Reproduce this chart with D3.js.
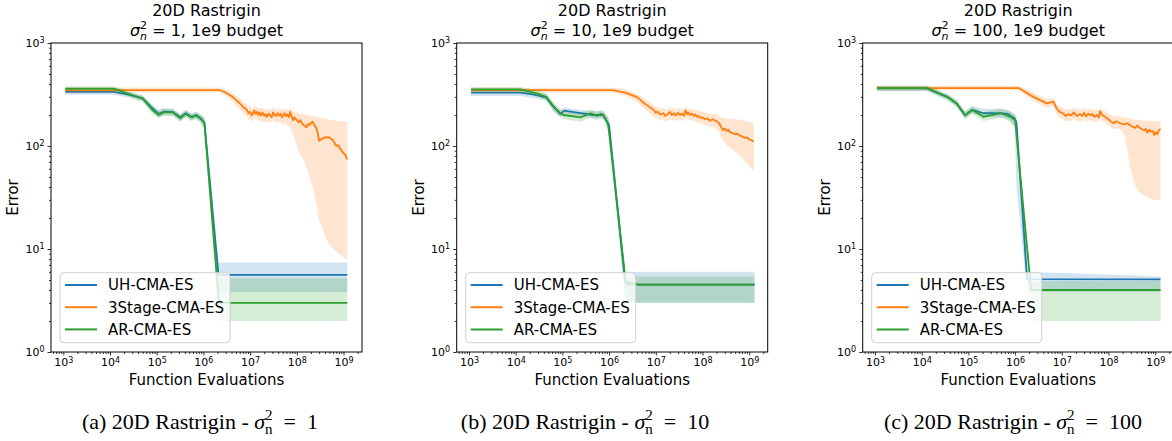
<!DOCTYPE html>
<html>
<head>
<meta charset="utf-8">
<script src="https://cdn.jsdelivr.net/npm/d3@7"></script>
<style>
  body { margin: 0; background: #fff; }
  svg { display: block; }
  text { font-family: "DejaVu Sans", sans-serif; fill: #000; }
</style>
</head>
<body>
<svg id="chart" width="1172" height="441"></svg>
<script>
// each row: [function evaluations, mean error, band low, band high]
var uhA = [
  [1.1e3, 335, 315, 355], [1.2e4, 335, 315, 360], [2.5e4, 315, 295, 335], [5e4, 290, 270, 310],
  [8e4, 235, 215, 255], [1.1e5, 205, 190, 225], [1.4e5, 215, 200, 232], [2.2e5, 214, 198, 230],
  [3.2e5, 190, 175, 205], [4.2e5, 208, 192, 225], [5.5e5, 192, 178, 208], [7e5, 200, 185, 215],
  [8.5e5, 188, 172, 205], [1.05e6, 170, 150, 190], [2.1e6, 5.6, 3.8, 7.4], [1.2e9, 5.6, 3.8, 7.4]
];
var stA = [
  [1.1e3, 348, 330, 370], [2.3e6, 348, 330, 370], [3.2e6, 325, 300, 350], [4.4e6, 295, 268, 322],
  [6e6, 260, 228, 290], [7.2e6, 238, 205, 268], [8.5e6, 225, 195, 255], [9.2e6, 208, 180, 240],
  [1.0e7, 215, 185, 245], [1.07e7, 198, 172, 236], [1.15e7, 205, 178, 232], [1.22e7, 222, 190, 246],
  [1.3e7, 206, 180, 238], [1.4e7, 214, 184, 240], [1.5e7, 200, 172, 228], [1.6e7, 212, 182, 236],
  [1.7e7, 198, 170, 230], [1.85e7, 210, 178, 236], [2.0e7, 196, 168, 225], [2.15e7, 204, 175, 230],
  [2.3e7, 192, 166, 224], [2.5e7, 206, 176, 232], [2.7e7, 198, 170, 226], [2.9e7, 190, 164, 222],
  [3.1e7, 212, 182, 238], [3.35e7, 200, 172, 230], [3.6e7, 195, 166, 224], [3.9e7, 208, 176, 232],
  [4.2e7, 198, 170, 228], [4.5e7, 206, 172, 230], [4.8e7, 190, 160, 222], [5.2e7, 200, 166, 228],
  [5.5e7, 208, 170, 232], [5.9e7, 195, 162, 226], [6.3e7, 203, 160, 228], [6.8e7, 190, 155, 222],
  [7.2e7, 214, 150, 232], [7.7e7, 196, 140, 226], [8.3e7, 178, 130, 215], [8.9e7, 190, 120, 214],
  [9.5e7, 182, 110, 212], [1.03e8, 175, 98, 210], [1.1e8, 170, 88, 208], [1.2e8, 178, 82, 206],
  [1.3e8, 165, 78, 205], [1.45e8, 158, 70, 202], [1.6e8, 152, 62, 200], [1.75e8, 164, 55, 199],
  [1.9e8, 160, 48, 198], [2.05e8, 170, 44, 196], [2.2e8, 172, 40, 195], [2.4e8, 158, 33, 193],
  [2.6e8, 150, 28, 192], [2.8e8, 135, 23, 190], [3.0e8, 112, 19, 188], [3.5e8, 118, 16, 186],
  [4.2e8, 122, 13, 184], [5e8, 121, 11, 180], [6e8, 113, 10, 178], [7e8, 100, 9.5, 176],
  [7.7e8, 102, 9.1, 176], [8.5e8, 94, 8.8, 175], [1.0e9, 85, 8.3, 174], [1.1e9, 82, 8.0, 173],
  [1.2e9, 74, 7.8, 172]
];
var arA = [
  [1.1e3, 360, 340, 380], [1.2e4, 360, 340, 380], [2.5e4, 320, 300, 340], [5e4, 290, 270, 310],
  [8e4, 225, 205, 245], [1.1e5, 200, 185, 220], [1.4e5, 212, 196, 230], [2.2e5, 212, 196, 230],
  [3.2e5, 186, 172, 202], [4.2e5, 205, 190, 222], [5.5e5, 190, 175, 206], [7e5, 197, 182, 213],
  [8.5e5, 185, 170, 202], [1.05e6, 168, 145, 190], [2.15e6, 3.0, 2.0, 5.2], [1.2e9, 3.0, 2.0, 5.2]
];

var uhB = [
  [1.1e3, 330, 305, 355], [1.25e4, 330, 305, 355], [2.5e4, 315, 290, 340], [4.5e4, 295, 275, 320],
  [6.5e4, 240, 220, 260], [9e4, 205, 190, 222], [1.1e5, 220, 205, 238], [1.9e5, 212, 198, 228],
  [4.5e5, 200, 185, 218], [7.4e5, 200, 185, 218], [1.0e6, 160, 140, 185], [2.2e6, 4.8, 3.0, 6.0],
  [4.3e6, 4.5, 3.0, 6.0], [1.3e9, 4.5, 3.0, 6.0]
];
var stB = [
  [1.1e3, 348, 330, 368], [1.2e6, 348, 330, 368], [2.2e6, 330, 305, 355], [3.9e6, 300, 270, 322],
  [6e6, 255, 225, 285], [9e6, 224, 195, 250], [1.0e7, 210, 184, 238], [1.1e7, 216, 188, 240],
  [1.25e7, 202, 178, 230], [1.45e7, 208, 182, 234], [1.6e7, 196, 172, 226], [1.8e7, 204, 176, 228],
  [2.0e7, 214, 186, 238], [2.2e7, 200, 176, 230], [2.45e7, 208, 182, 234], [2.7e7, 198, 174, 226],
  [3.0e7, 210, 182, 234], [3.3e7, 200, 176, 228], [3.6e7, 206, 180, 232], [4e7, 196, 172, 224],
  [4.3e7, 222, 190, 242], [4.7e7, 204, 180, 232], [5.0e7, 212, 186, 236], [5.4e7, 200, 176, 228],
  [6.0e7, 206, 180, 232], [6.5e7, 196, 172, 224], [7.0e7, 202, 176, 228], [7.6e7, 192, 168, 220],
  [8.2e7, 196, 170, 222], [8.9e7, 188, 164, 216], [1.0e8, 190, 164, 216], [1.1e8, 182, 158, 212],
  [1.25e8, 186, 160, 210], [1.45e8, 176, 152, 204], [1.65e8, 182, 154, 206], [1.9e8, 176, 150, 204],
  [2.1e8, 172, 142, 200], [2.3e8, 166, 135, 195], [2.5e8, 152, 120, 190], [2.8e8, 142, 112, 188],
  [3.0e8, 148, 108, 187], [3.3e8, 140, 102, 186], [3.6e8, 144, 99, 185], [3.9e8, 136, 96, 184],
  [4.4e8, 134, 92, 183], [5e8, 130, 88, 182], [5.6e8, 132, 84, 181], [6.3e8, 126, 80, 180],
  [7.1e8, 124, 76, 178], [8e8, 120, 72, 176], [9e8, 121, 68, 173], [1.0e9, 116, 64, 170],
  [1.12e9, 114, 60, 168], [1.25e9, 110, 56, 165]
];
var arB = [
  [1.1e3, 355, 335, 375], [1.25e4, 355, 335, 375], [3e4, 320, 300, 345], [4.5e4, 300, 280, 325],
  [6.5e4, 240, 215, 262], [9e4, 208, 190, 230], [1.05e5, 200, 182, 222], [2.5e5, 190, 172, 208],
  [4e5, 208, 190, 228], [5.6e5, 196, 178, 215], [6.5e5, 205, 188, 225], [7.4e5, 203, 185, 222],
  [9.5e5, 166, 145, 190], [2.3e6, 4.5, 3.0, 5.4], [1.3e9, 4.5, 3.0, 5.4]
];

var uhC = [
  [1.1e3, 362, 340, 385], [1.3e4, 362, 340, 385], [3.5e4, 300, 280, 320], [5.6e4, 259, 240, 280],
  [8.5e4, 199, 185, 215], [1.2e5, 224, 208, 242], [2.1e5, 208, 192, 230], [4.9e5, 208, 190, 230],
  [7e5, 205, 185, 225], [9.8e5, 185, 150, 205], [1.07e6, 170, 40, 195], [1.8e6, 5.1, 3.85, 6.0],
  [1.3e9, 5.08, 3.85, 5.4]
];
var stC = [
  [1.1e3, 365, 345, 385], [1.2e6, 365, 345, 385], [2.45e6, 300, 275, 330], [4.8e6, 259, 235, 285],
  [6.6e6, 270, 245, 290], [7.8e6, 230, 205, 255], [9.0e6, 214, 188, 240], [1.07e7, 208, 184, 234],
  [1.2e7, 196, 172, 226], [1.4e7, 204, 176, 230], [1.6e7, 198, 174, 228], [1.8e7, 212, 188, 238],
  [2.1e7, 196, 172, 226], [2.45e7, 204, 176, 230], [2.7e7, 196, 172, 226], [3e7, 210, 186, 236],
  [3.3e7, 194, 170, 224], [3.7e7, 206, 180, 232], [4.1e7, 198, 174, 226], [4.5e7, 204, 178, 230],
  [5e7, 192, 170, 222], [5.6e7, 200, 176, 228], [6.2e7, 190, 168, 222], [6.6e7, 218, 188, 240],
  [7.3e7, 200, 176, 228], [8.2e7, 194, 170, 220], [9.3e7, 186, 162, 212], [1.05e8, 178, 156, 204],
  [1.15e8, 172, 150, 198], [1.29e8, 166, 145, 192], [1.45e8, 174, 150, 198], [1.7e8, 168, 146, 194],
  [1.95e8, 164, 140, 190], [2.2e8, 162, 130, 188], [2.55e8, 166, 90, 188], [2.95e8, 158, 60, 186],
  [3.3e8, 154, 50, 183], [3.7e8, 150, 42, 180], [4.1e8, 158, 38, 180], [4.5e8, 152, 36, 180],
  [5.1e8, 146, 34, 178], [5.75e8, 142, 33, 176], [6.3e8, 146, 32, 176], [6.8e8, 135, 32, 175],
  [7.4e8, 144, 31, 176], [8e8, 138, 31, 176], [8.8e8, 140, 30, 175], [9.5e8, 128, 30, 174],
  [1.02e9, 136, 30, 174], [1.1e9, 130, 30, 174], [1.2e9, 142, 30, 175], [1.3e9, 146, 30, 175]
];
var arC = [
  [1.1e3, 365, 345, 385], [1.3e4, 365, 345, 385], [3.5e4, 300, 280, 322], [5.6e4, 259, 240, 280],
  [8.5e4, 199, 182, 218], [1.2e5, 224, 205, 245], [2.1e5, 192, 175, 212], [4.9e5, 208, 188, 230],
  [8e5, 192, 172, 215], [1.0e6, 178, 155, 200], [2.2e6, 4.0, 2.0, 4.9], [1.3e9, 4.0, 2.0, 4.9]
];

var seriesNames = ['UH-CMA-ES', '3Stage-CMA-ES', 'AR-CMA-ES'];
var seriesColors = ['#1f77b4', '#ff7f0e', '#2ca02c'];
var noiseLevels = ['1', '10', '100'];
var captionLetters = ['a', 'b', 'c'];
var xTickValues = [1e3, 1e4, 1e5, 1e6, 1e7, 1e8, 1e9];
var yTickValues = [1e0, 1e1, 1e2, 1e3];

var panelData = [[uhA, stA, arA], [uhB, stB, arB], [uhC, stC, arC]];
var panelLeft = [51, 456.7, 862.7];
var captionX = [200, 585, 1013];
var plotW = 311, plotTop = 43, plotBottom = 352;

var svg = d3.select('#chart');

function minorTicks(lo, hi) {
  var out = [];
  for (var e = Math.floor(Math.log10(lo)); e <= Math.ceil(Math.log10(hi)); e++) {
    for (var m = 2; m <= 9; m++) {
      var v = m * Math.pow(10, e);
      if (v > lo && v < hi) out.push(v);
    }
  }
  return out;
}

function powLabel(sel, base, sup) {
  sel.text(null);
  sel.append('tspan').text(base);
  sel.append('tspan').attr('font-size', '8px').attr('dy', '-0.45em').text(sup);
}

panelData.forEach(function(series, p) {
  var L = panelLeft[p];
  var g = svg.append('g');
  var clipId = 'clip' + p;

  // 10^3 sits 12.3px right of the spine, 46.7px per decade
  var x = d3.scaleLog()
      .domain([Math.pow(10, 3 - 12.3 / 46.7), Math.pow(10, 3 + (plotW - 12.3) / 46.7)])
      .range([L, L + plotW]);
  var y = d3.scaleLog().domain([1, 1000]).range([plotBottom, plotTop]);

  svg.append('clipPath').attr('id', clipId)
    .append('rect').attr('x', L).attr('y', plotTop).attr('width', plotW).attr('height', plotBottom - plotTop);

  var plot = g.append('g').attr('clip-path', 'url(#' + clipId + ')');
  var area = d3.area().x(function(d) { return x(d[0]); })
      .y0(function(d) { return y(d[2]); }).y1(function(d) { return y(d[3]); });
  var line = d3.line().x(function(d) { return x(d[0]); }).y(function(d) { return y(d[1]); });

  series.forEach(function(s, i) {
    plot.append('path').datum(s).attr('d', line)
        .attr('fill', 'none').attr('stroke', seriesColors[i]).attr('stroke-width', 1.8)
        .attr('stroke-linejoin', 'round');
    plot.append('path').datum(s).attr('d', area)
        .attr('fill', seriesColors[i]).attr('fill-opacity', 0.2);
  });

  // axes
  var xAxis = g.append('g').attr('transform', 'translate(0,' + plotBottom + ')')
      .call(d3.axisBottom(x).tickValues(xTickValues).tickSize(3.5).tickPadding(3));
  xAxis.selectAll('.tick text').each(function(d) {
    powLabel(d3.select(this), '10', String(Math.round(Math.log10(d))));
  });
  g.append('g').attr('transform', 'translate(0,' + plotBottom + ')')
    .call(d3.axisBottom(x).tickValues(minorTicks(x.domain()[0], x.domain()[1])).tickSize(2).tickFormat(''));

  var yAxis = g.append('g').attr('transform', 'translate(' + L + ',0)')
      .call(d3.axisLeft(y).tickValues(yTickValues).tickSize(3.5).tickPadding(3));
  yAxis.selectAll('.tick text').each(function(d) {
    powLabel(d3.select(this), '10', String(Math.round(Math.log10(d))));
  });
  g.append('g').attr('transform', 'translate(' + L + ',0)')
    .call(d3.axisLeft(y).tickValues(minorTicks(1, 1000)).tickSize(2).tickFormat(''));

  g.selectAll('.domain').remove();
  g.selectAll('.tick line').attr('stroke', '#000').attr('stroke-width', 0.8);
  g.selectAll('.tick text').attr('font-family', '"DejaVu Sans", sans-serif')
    .attr('font-size', '11px').attr('fill', '#000');

  g.append('rect').attr('x', L).attr('y', plotTop).attr('width', plotW).attr('height', plotBottom - plotTop)
    .attr('fill', 'none').attr('stroke', '#000').attr('stroke-width', 1);

  // titles and axis labels
  var cx = L + plotW / 2;
  g.append('text').attr('x', cx).attr('y', 16).attr('text-anchor', 'middle')
    .attr('font-size', '16px').text('20D Rastrigin');
  var t2 = g.append('text').attr('x', cx).attr('y', 36).attr('text-anchor', 'middle')
    .attr('font-size', '16px');
  t2.append('tspan').attr('font-style', 'italic').text('σ');
  t2.append('tspan').attr('font-size', '11px').attr('dy', -7).text('2');
  t2.append('tspan').attr('font-size', '11px').attr('font-style', 'italic')
    .attr('dx', -7).attr('dy', 11).text('n');
  t2.append('tspan').attr('dy', -4).text(' = ' + noiseLevels[p] + ', 1e9 budget');

  g.append('text').attr('x', cx).attr('y', 385).attr('text-anchor', 'middle')
    .attr('font-size', '15px').text('Function Evaluations');
  g.append('text').attr('transform', 'translate(' + (L - 33) + ',' + ((plotTop + plotBottom) / 2) + ') rotate(-90)')
    .attr('text-anchor', 'middle').attr('font-size', '15px').text('Error');

  // legend
  var lg = g.append('g');
  lg.append('rect').attr('x', L + 9).attr('y', 272.7).attr('width', 170).attr('height', 70)
    .attr('rx', 4).attr('fill', '#fff').attr('fill-opacity', 0.8)
    .attr('stroke', '#d0d0d0').attr('stroke-width', 1);
  seriesNames.forEach(function(name, i) {
    var ly = 285 + i * 22.2;
    lg.append('line').attr('x1', L + 14).attr('x2', L + 46).attr('y1', ly).attr('y2', ly)
      .attr('stroke', seriesColors[i]).attr('stroke-width', 2);
    lg.append('text').attr('x', L + 57).attr('y', ly).attr('dy', '0.36em')
      .attr('font-size', '15px').text(name);
  });

  // subfigure caption
  var cap = svg.append('text').attr('x', captionX[p]).attr('y', 429).attr('text-anchor', 'middle')
    .style('font-family', '"Liberation Serif", "Times New Roman", serif').attr('font-size', '22px');
  cap.append('tspan').text('(' + captionLetters[p] + ') 20D Rastrigin - ');
  cap.append('tspan').attr('font-style', 'italic').text('σ');
  cap.append('tspan').attr('font-size', '15px').attr('dy', -9).text('2');
  cap.append('tspan').attr('font-size', '15px').attr('dx', -7.5).attr('dy', 14).text('n');
  cap.append('tspan').attr('dy', -5).text('\u2002=\u2002' + noiseLevels[p]);
});
</script>
</body>
</html>
